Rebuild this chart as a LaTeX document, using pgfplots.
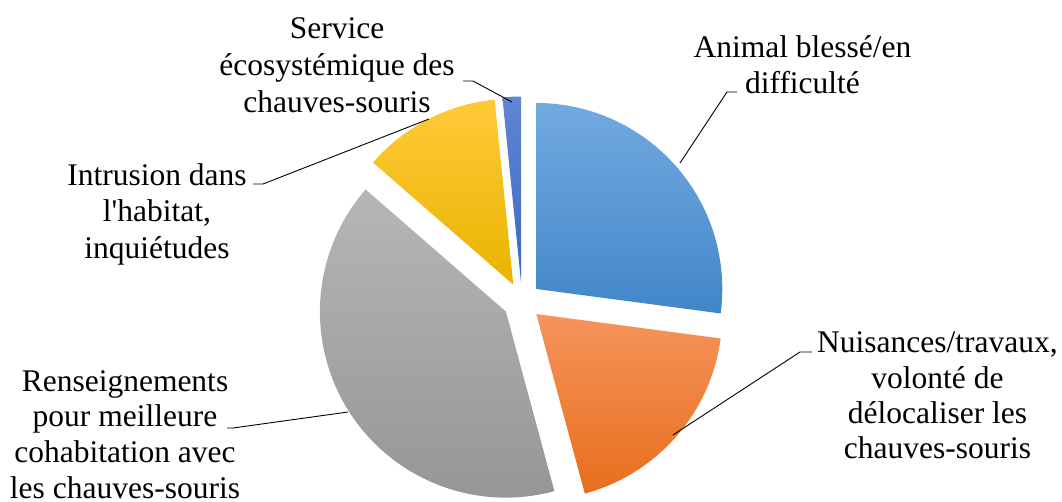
\documentclass[border=0pt]{standalone}
\usepackage{pgfplots}
\pgfplotsset{compat=1.18}
\usepackage{pgfplotstable}
\usepackage{fontspec}
\setmainfont{Liberation Serif}
\newfontfamily\plainserif{Liberation Serif}

\definecolor{bluetop}{RGB}{114,170,224}
\definecolor{bluebot}{RGB}{66,134,200}
\definecolor{orgtop}{RGB}{245,148,92}
\definecolor{orgbot}{RGB}{232,110,28}
\definecolor{graytop}{RGB}{182,182,182}
\definecolor{graybot}{RGB}{148,148,148}
\definecolor{yeltop}{RGB}{255,202,56}
\definecolor{yelbot}{RGB}{232,180,0}
\definecolor{dbtop}{RGB}{96,134,212}
\definecolor{dbbot}{RGB}{60,104,192}

% share of each category (percent), clockwise from 12 o'clock
\pgfplotstableread{
val  top     bot
27.1 bluetop bluebot
18.7 orgtop  orgbot
40.6 graytop graybot
12.0 yeltop  yelbot
1.6  dbtop   dbbot
}\piedata

\newcommand\drawslice[1]{%
  \pgfplotstablegetelem{#1}{val}\of\piedata
  \pgfmathsetmacro\sweep{3.6*\pgfplotsretval}%
  \pgfplotstablegetelem{#1}{top}\of\piedata \edef\ctop{\pgfplotsretval}%
  \pgfplotstablegetelem{#1}{bot}\of\piedata \edef\cbot{\pgfplotsretval}%
  \pgfmathsetmacro\endang{\startang-\sweep}%
  \pgfmathsetmacro\midang{\startang-\sweep/2}%
  \pgfmathsetmacro\ax{522+19*cos(\midang)}%
  \pgfmathsetmacro\ay{-301.5+19*sin(\midang)}%
  \shade[top color=\ctop, bottom color=\cbot]
    (axis cs:\ax,\ay) -- ++(\startang:186pt)
    arc[start angle=\startang, end angle=\endang, radius=186pt] -- cycle;
  \global\let\startang\endang
}

\begin{document}
\begin{tikzpicture}
\begin{axis}[
  scale only axis, width=1062pt, height=501pt,
  xmin=0, xmax=1062, ymin=-501, ymax=0,
  hide axis, clip=false, disabledatascaling,
]
\pgfplotsextra{%
  \gdef\startang{90}%
  \drawslice{0}\drawslice{1}\drawslice{2}\drawslice{3}\drawslice{4}%
}
\begin{scope}[font=\fontsize{31.5}{36}\selectfont]
% leader lines
\draw[black, line width=0.9pt] (axis cs:463,-81) -- (axis cs:473,-81) -- (axis cs:512,-102);
\draw[black, line width=0.9pt] (axis cs:680,-163) -- (axis cs:727,-92) -- (axis cs:737,-92);
\draw[black, line width=0.9pt] (axis cs:673,-435) -- (axis cs:800,-352) -- (axis cs:812,-352);
\draw[black, line width=0.9pt] (axis cs:227,-428) -- (axis cs:233,-428) -- (axis cs:348,-412);
\draw[black, line width=0.9pt] (axis cs:253,-184) -- (axis cs:263,-184) -- (axis cs:429,-119);
% labels
\node[anchor=base, inner sep=0pt] at (axis cs:337,-38) {Service};
\node[anchor=base, inner sep=0pt] at (axis cs:337,-75) {écosystémique des};
\node[anchor=base, inner sep=0pt] at (axis cs:337,-112) {chauves-souris};
\node[anchor=base, inner sep=0pt] at (axis cs:802.5,-57) {Animal blessé/en};
\node[anchor=base, inner sep=0pt] at (axis cs:802.5,-93) {difficulté};
\node[anchor=base, inner sep=0pt] at (axis cs:937.5,-352) {Nuisances/travaux,};
\node[anchor=base, inner sep=0pt] at (axis cs:937.5,-388) {volonté de};
\node[anchor=base, inner sep=0pt] at (axis cs:937.5,-423) {délocaliser les};
\node[anchor=base, inner sep=0pt] at (axis cs:937.5,-458) {chauves-souris};
\node[anchor=base, inner sep=0pt] at (axis cs:125,-391) {Renseignements};
\node[anchor=base, inner sep=0pt] at (axis cs:125,-426) {pour meilleure};
\node[anchor=base, inner sep=0pt] at (axis cs:125,-462) {cohabitation avec};
\node[anchor=base, inner sep=0pt] at (axis cs:125,-498) {les chauves-souris};
\node[anchor=base, inner sep=0pt] at (axis cs:157,-185) {Intrusion dans};
\node[anchor=base, inner sep=0pt] at (axis cs:157,-221) {\plainserif l'habitat,};
\node[anchor=base, inner sep=0pt] at (axis cs:157,-258) {inquiétudes};
\end{scope}
\end{axis}
\pgfresetboundingbox
\useasboundingbox (current axis.south west) rectangle (current axis.north east);
\end{tikzpicture}
\end{document}
